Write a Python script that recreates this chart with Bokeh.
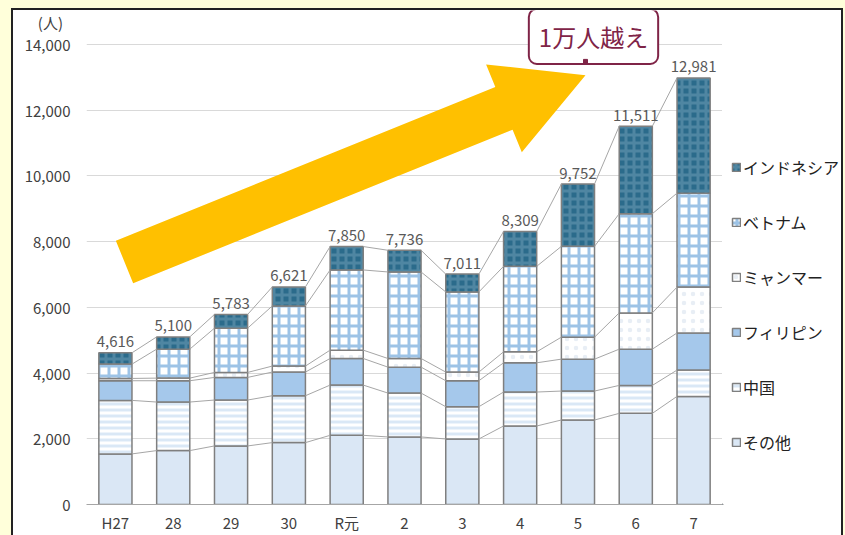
import math
from bokeh.plotting import figure
from bokeh.layouts import row
from bokeh.models import (Range1d, FixedTicker, NumeralTickFormatter, Legend, LegendItem,
                          Label, GlobalInlineStyleSheet)
from bokeh.core.properties import value
from bokeh.embed import file_html
from bokeh.resources import INLINE

# ---------------- data ----------------
categories = ["H27", "28", "29", "30", "R元", "2", "3", "4", "5", "6", "7"]
sonota    = [1540, 1640, 1782, 1883, 2105, 2055, 1994, 2389, 2571, 2773, 3290]
china     = [1628, 1478, 1397, 1427, 1529, 1336,  982, 1033,  881,  851,  800]
phil      = [ 598,  648,  688,  720,  809,  789,  790,  890,  971, 1103, 1130]
myanmar   = [  70,   80,  152,  182,  254,  263,  264,  334,  669, 1104, 1395]
vietnam   = [ 436,  882, 1346, 1831, 2440, 2633, 2438, 2602, 2763, 3017, 2860]
indonesia = [ 344,  372,  418,  578,  713,  660,  543, 1061, 1897, 2663, 3506]
totals    = [4616, 5100, 5783, 6621, 7850, 7736, 7011, 8309, 9752, 11511, 12981]
series_names = ["その他", "中国", "フィリピン", "ミャンマー", "ベトナム", "インドネシア"]
y_ticks = [0, 2000, 4000, 6000, 8000, 10000, 12000, 14000]
unit_text = "(人)"

FONT = "Noto Sans CJK JP"

# ---------------- layout helpers (page pixels) ----------------
OX, OY = 13, 10                      # canvas offset inside the yellow page
W_MAIN, W_LEG, H = 709, 119, 525
LEFT, RIGHT, TOP, BOTTOM = 73, 0, 0, 30
FRAME_W = W_MAIN - LEFT - RIGHT
FRAME_H = H - TOP - BOTTOM
PX_PER_UNIT = 461.0 / 14000.0
Y_END = FRAME_H / PX_PER_UNIT
CAT_PX = FRAME_W / len(categories)
FRAME_LEFT_PAGE = OX + LEFT
FRAME_BOTTOM_PAGE = OY + H - BOTTOM

def dx(px):
    return (px - FRAME_LEFT_PAGE) / CAT_PX - 0.5

def dy(py):
    return (FRAME_BOTTOM_PAGE - py) / PX_PER_UNIT

styles = [
    dict(fill_color="#DAE7F5"),
    dict(fill_color="#FFFFFF", hatch_pattern="horizontal_line", hatch_color="#DAE8F6", hatch_weight=3, hatch_scale=6),
    dict(fill_color="#A5C8EB"),
    dict(fill_color="#FFFFFF", hatch_pattern="dot", hatch_color="#E8EEF5", hatch_weight=3, hatch_scale=9),
    dict(fill_color="#FFFFFF", hatch_pattern="cross", hatch_color="#9DC3E6", hatch_weight=3, hatch_scale=10),
    dict(fill_color="#2B6B8B", hatch_pattern="cross", hatch_color="#4F86A2", hatch_weight=3, hatch_scale=8),
]

# ---------------- main figure ----------------
p = figure(width=W_MAIN, height=H, x_range=Range1d(-0.5, len(categories) - 0.5), y_range=Range1d(0, Y_END),
           output_backend="svg", toolbar_location=None, title=None,
           min_border_left=LEFT, min_border_right=RIGHT, min_border_top=TOP, min_border_bottom=BOTTOM)
p.border_fill_color = "#FFFFFF"
p.background_fill_color = "#FFFFFF"
p.outline_line_color = None

xs = list(range(len(categories)))
p.xaxis.ticker = FixedTicker(ticks=xs)
p.xaxis.major_label_overrides = {i: c for i, c in enumerate(categories)}
p.xaxis.axis_line_color = "#A6A6A6"
p.xaxis.major_tick_line_color = None
p.xaxis.minor_tick_line_color = None
p.xaxis.major_tick_out = 0
p.xaxis.minor_tick_out = 0
p.xaxis.major_label_standoff = 7
p.xaxis.major_label_text_font = FONT
p.xaxis.major_label_text_font_size = "15px"
p.xaxis.major_label_text_color = "#404040"
p.xgrid.visible = False

unit_tick = dy(22)
p.yaxis.ticker = FixedTicker(ticks=y_ticks + [unit_tick])
p.yaxis.formatter = NumeralTickFormatter(format="0,0")
p.yaxis.major_label_overrides = {unit_tick: unit_text + "\u2002"}
p.yaxis.axis_line_color = None
p.yaxis.major_tick_line_color = None
p.yaxis.minor_tick_line_color = None
p.yaxis.major_tick_out = 0
p.yaxis.minor_tick_out = 0
p.yaxis.major_label_standoff = 16
p.yaxis.major_label_text_font = FONT
p.yaxis.major_label_text_font_size = "15px"
p.yaxis.major_label_text_color = "#404040"
p.ygrid.ticker = FixedTicker(ticks=y_ticks)
p.ygrid.grid_line_color = "#D9D9D9"

# yellow arrow (decoration)
T = (124.0, 262.0); P = (585.0, 75.0)
L = math.hypot(P[0] - T[0], P[1] - T[1])
u = ((P[0] - T[0]) / L, (P[1] - T[1]) / L)
n = (-u[1], u[0])
B = (P[0] - 88 * u[0], P[1] - 88 * u[1])
pts = [(T[0] + 23 * n[0], T[1] + 23 * n[1]), (B[0] + 23 * n[0], B[1] + 23 * n[1]),
       (B[0] + 47.5 * n[0], B[1] + 47.5 * n[1]), P,
       (B[0] - 47.5 * n[0], B[1] - 47.5 * n[1]), (B[0] - 23 * n[0], B[1] - 23 * n[1]),
       (T[0] - 23 * n[0], T[1] - 23 * n[1])]
p.patch(x=[dx(a) for a, b in pts], y=[dy(b) for a, b in pts], fill_color="#FFC000", line_color=None)

# stacked bars
BW = 0.573
series = [sonota, china, phil, myanmar, vietnam, indonesia]
bottoms = [0] * len(categories)
cums = []
for vals, st in zip(series, styles):
    tops = [b + v for b, v in zip(bottoms, vals)]
    cums.append(tops)
    p.vbar(x=xs, bottom=bottoms, top=tops, width=BW, line_color="#7F7F7F", line_width=1.5, **st)
    bottoms = tops

# connector lines
sx0, sy0, sx1, sy1 = [], [], [], []
for tops in cums:
    for i in range(len(categories) - 1):
        sx0.append(i + BW / 2); sy0.append(tops[i])
        sx1.append(i + 1 - BW / 2); sy1.append(tops[i + 1])
p.segment(x0=sx0, y0=sy0, x1=sx1, y1=sy1, line_color="#A6A6A6", line_width=1)

# totals
p.text(x=xs, y=totals, text=[f"{v:,}" for v in totals], text_align="center", text_baseline="alphabetic",
       y_offset=-11, text_font=value(FONT), text_font_size="15px", text_color="#595959")

# callout
p.add_layout(Label(x=dx(593), y=dy(36), text="1万人越え", text_align="center", text_baseline="middle",
                   text_font=FONT, text_font_size="24px", text_color="#7F2447",
                   background_fill_color="#FFFFFF", border_line_color="#7F2447", border_line_width=2,
                   border_radius=8, padding=10))
mk = p.scatter(x=[dx(585)], y=[dy(61)], marker="square", size=4, color="#7F2447")
mk.level = "overlay"

# ---------------- legend figure ----------------
pl = figure(width=W_LEG, height=H, x_range=Range1d(0, 1), y_range=Range1d(0, 1),
            output_backend="svg", toolbar_location=None, title=None,
            min_border_left=0, min_border_right=0, min_border_top=0, min_border_bottom=0)
pl.axis.visible = False
pl.grid.visible = False
pl.outline_line_color = None
pl.border_fill_color = "#FFFFFF"
pl.background_fill_color = "#FFFFFF"
# legend keys only (placed outside the visible range)
leg_renderers = [pl.vbar(x=[-10], bottom=[-10], top=[-9], width=0.5, line_color="#7F7F7F", line_width=1.5, **st)
                 for st in styles]
items = [LegendItem(label=name, renderers=[r]) for name, r in zip(series_names, leg_renderers)][::-1]
legend = Legend(items=items, location=(9, 50), glyph_width=10, glyph_height=10, label_height=20,
                spacing=31, padding=0, margin=0, border_line_color=None, background_fill_alpha=0,
                label_text_font=FONT, label_text_font_size="16px", label_text_color="#222222",
                label_standoff=2)
pl.add_layout(legend)

root = row(p, pl, spacing=0,
           styles={"margin-left": f"{OX}px", "margin-top": f"{OY}px", "outline": "2px solid #222222",
                   "background-color": "#FFFFFF"})
root.stylesheets = [GlobalInlineStyleSheet(css="html, body { background-color: #FFFFDA; margin: 0; overflow: hidden; }")]

open("out.html", "w").write(file_html(root, INLINE))
